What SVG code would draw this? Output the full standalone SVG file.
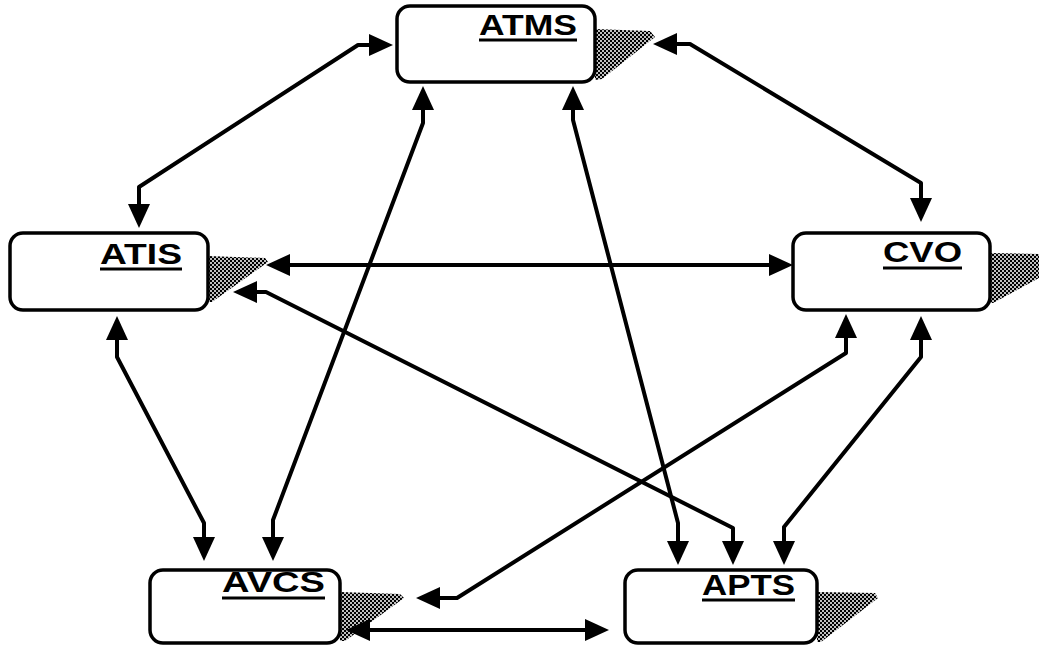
<svg xmlns="http://www.w3.org/2000/svg" width="1039" height="646" viewBox="0 0 1039 646">
<style>
.box{fill:#fff;stroke:#000;stroke-width:3.5}
.lbl{font-family:"Liberation Sans",Arial,sans-serif;font-weight:bold;font-size:29px;fill:#000}
.ul{stroke:#000;stroke-width:3}
.sh{fill:url(#dots);stroke:none}
.c{fill:none;stroke:#000;stroke-width:4;stroke-linejoin:round;marker-start:url(#ah);marker-end:url(#ah)}
</style>
<defs>
<pattern id="dots" width="4" height="4" patternUnits="userSpaceOnUse">
<rect width="4" height="4" fill="#000"/>
<circle cx="1" cy="1" r="1" fill="#fff"/>
<circle cx="3" cy="3" r="1" fill="#fff"/>
</pattern>
<marker id="ah" viewBox="0 0 24 22" refX="1" refY="11" markerWidth="24" markerHeight="22" markerUnits="userSpaceOnUse" orient="auto-start-reverse">
<path d="M0,0 L24,11 L0,22 z" fill="#000"/>
</marker>
</defs>
<rect width="1039" height="646" fill="#fff"/>

<g id="ATMS">
<polygon class="sh" points="595,29 650,31 655,37 602,79 595,80"/>
<rect class="box" x="397" y="6" width="198" height="76" rx="13"/>
<text class="lbl" x="479" y="35" textLength="98" lengthAdjust="spacingAndGlyphs">ATMS</text>
<line class="ul" x1="479" y1="40" x2="577" y2="40"/>
</g>

<g id="ATIS">
<polygon class="sh" points="208,256 265,258 268,262 212,302 208,302"/>
<rect class="box" x="10" y="233" width="198" height="77" rx="13"/>
<text class="lbl" x="100" y="264" textLength="82" lengthAdjust="spacingAndGlyphs">ATIS</text>
<line class="ul" x1="100" y1="269" x2="182" y2="269"/>
</g>

<g id="CVO">
<polygon class="sh" points="990,253 1039,254 1039,278 993,303 990,303"/>
<rect class="box" x="793" y="233" width="197" height="77" rx="13"/>
<text class="lbl" x="883" y="262" textLength="79" lengthAdjust="spacingAndGlyphs">CVO</text>
<line class="ul" x1="883" y1="268" x2="962" y2="268"/>
</g>

<g id="AVCS">
<polygon class="sh" points="340,592 400,594 404,598 345,641 340,641"/>
<rect class="box" x="150" y="570" width="190" height="73" rx="13"/>
<text class="lbl" x="222" y="592" textLength="103" lengthAdjust="spacingAndGlyphs">AVCS</text>
<line class="ul" x1="222" y1="598" x2="325" y2="598"/>
</g>

<g id="APTS">
<polygon class="sh" points="817,592 875,593 878,598 821,642 817,642"/>
<rect class="box" x="625" y="570" width="192" height="73" rx="13"/>
<text class="lbl" x="702" y="595" textLength="93" lengthAdjust="spacingAndGlyphs">APTS</text>
<line class="ul" x1="702" y1="600" x2="795" y2="600"/>
</g>

<g id="connectors">
<path class="c" d="M139,205 L139,187 L358,45 L370,45"/>
<path class="c" d="M676,44 L690,44 L921,183 L921,199"/>
<path class="c" d="M289,265 L770,265"/>
<path class="c" d="M256,292 L266,292 L733,528 L733,542"/>
<path class="c" d="M117,339 L117,357 L204,523 L204,538"/>
<path class="c" d="M423,109 L423,123 L273,520 L273,538"/>
<path class="c" d="M573,109 L573,120 L678,523 L678,542"/>
<path class="c" d="M846,337 L846,353 L457,598 L439,598"/>
<path class="c" d="M921,339 L921,357 L784,527 L784,542"/>
<path class="c" d="M369,630 L586,630"/>
</g>
</svg>
